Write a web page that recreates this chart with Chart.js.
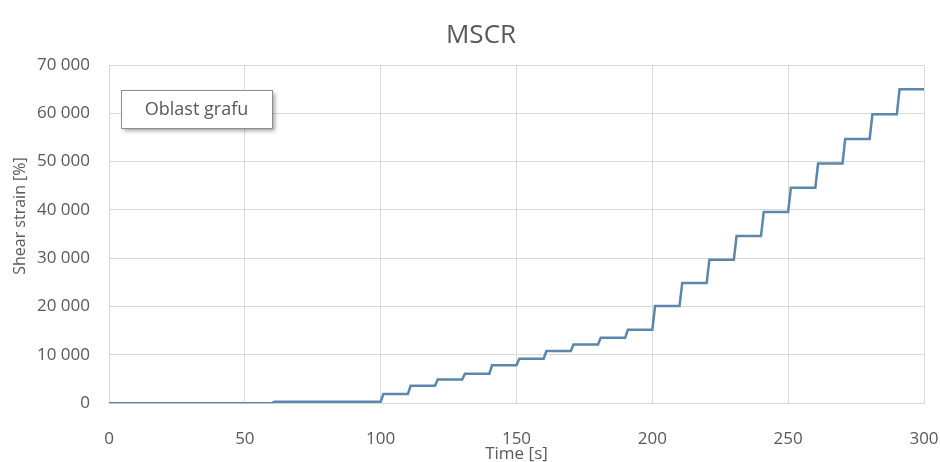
<!DOCTYPE html>
<html>
<head>
<meta charset="utf-8">
<title>MSCR</title>
<script src="https://cdn.jsdelivr.net/npm/chart.js@4.4.1/dist/chart.umd.min.js"></script>
<style>
    html, body { margin: 0; padding: 0; background: #fff; }
    #wrap { width: 940px; height: 462px; }
</style>
</head>
<body>
<div id="wrap"><canvas id="mscr"></canvas></div>
<script>
    'use strict';

    // Time [s] and strain [%] (creep step at each cycle start)
    const times = [
        0, 60, 61, 100, 101, 110, 111, 120, 121, 130, 131, 140, 141, 150, 151,
        160, 161, 170, 171, 180, 181, 190, 191, 200, 201, 210, 211, 220, 221,
        230, 231, 240, 241, 250, 251, 260, 261, 270, 271, 280, 281, 290, 291, 300
    ];
    const strains = [
        0, 0, 300, 300, 1900, 1900, 3600, 3600, 4900, 4900, 6100, 6100, 7850, 7850, 9200,
        9200, 10800, 10800, 12150, 12150, 13550, 13550, 15200, 15200, 20100, 20100, 24900, 24900, 29700,
        29700, 34600, 34600, 39600, 39600, 44600, 44600, 49600, 49600, 54700, 54700, 59800, 59800, 65000, 65000
    ];
    const xTicks = [0, 50, 100, 150, 200, 250, 300];
    const yTicks = [0, 10000, 20000, 30000, 40000, 50000, 60000, 70000];

    const chartTitle = 'MSCR';
    const xTitle = 'Time [s]';
    const yTitle = 'Shear strain [%]';
    const calloutText = 'Oblast grafu';

    const FONT = '"Open Sans", "Noto Sans", sans-serif';
    const TEXT = '#595959';
    const GRID = '#d9d9d9';

    function thousands(v) {
        return String(v).replace(/\B(?=(\d{3})+(?!\d))/g, ' ');
    }

    // Title, rotated y title and the Excel "Oblast grafu" tooltip box
    const decorPlugin = {
        id: 'decor',
        afterDraw: function(chart) {
            const ctx = chart.ctx;
            const area = chart.chartArea;
            ctx.save();
            ctx.fillStyle = TEXT;
            ctx.textAlign = 'center';
            ctx.textBaseline = 'middle';

            ctx.font = '26px ' + FONT;
            ctx.fillText(chartTitle, area.left + 372, 36);

            ctx.save();
            ctx.translate(20, area.top + 151);
            ctx.rotate(-Math.PI / 2);
            ctx.font = '16px ' + FONT;
            ctx.fillText(yTitle, 0, 0);
            ctx.restore();

            // callout box with a soft shadow
            const bx = area.left + 12, by = area.top + 25, bw = 151, bh = 38;
            ctx.save();
            ctx.shadowColor = 'rgba(0,0,0,0.35)';
            ctx.shadowBlur = 4;
            ctx.shadowOffsetX = 3;
            ctx.shadowOffsetY = 3;
            ctx.fillStyle = '#fff';
            ctx.fillRect(bx, by, bw, bh);
            ctx.restore();
            ctx.strokeStyle = '#8c8c8c';
            ctx.lineWidth = 1;
            ctx.strokeRect(bx + 0.5, by + 0.5, bw, bh);
            ctx.font = '18px ' + FONT;
            ctx.fillStyle = TEXT;
            ctx.fillText(calloutText, bx + bw / 2, by + bh / 2 + 1);
            ctx.restore();
        }
    };

    const points = times.map(function(t, i) {
        return { x: t, y: strains[i] };
    });

    new Chart(document.getElementById('mscr'), {
        type: 'line',
        data: {
            datasets: [{
                label: 'MSCR',
                data: points,
                borderColor: '#5b87ad',
                borderWidth: 2.5,
                pointRadius: 0,
                tension: 0,
                fill: false
            }]
        },
        options: {
            responsive: true,
            maintainAspectRatio: false,
            animation: false,
            layout: {
                padding: { top: 65, left: 18, right: 16, bottom: 0 }
            },
            plugins: {
                legend: { display: false },
                tooltip: { enabled: false }
            },
            scales: {
                x: {
                    type: 'linear',
                    min: 0,
                    max: 300,
                    afterBuildTicks: function(axis) {
                        axis.ticks = xTicks.map(function(v) { return { value: v }; });
                    },
                    afterFit: function(axis) {
                        // the "300" label may hang into the right padding
                        axis.paddingRight = 0;
                    },
                    grid: { color: GRID, drawTicks: false },
                    border: { color: GRID },
                    ticks: {
                        padding: 26,
                        color: TEXT,
                        font: { family: FONT, size: 17 }
                    },
                    title: {
                        display: true,
                        text: xTitle,
                        color: TEXT,
                        font: { family: FONT, size: 17 },
                        padding: { top: -32, bottom: -2 }
                    }
                },
                y: {
                    min: 0,
                    max: 70000,
                    afterBuildTicks: function(axis) {
                        axis.ticks = yTicks.map(function(v) { return { value: v }; });
                    },
                    grid: { color: GRID, drawTicks: false },
                    border: { color: GRID },
                    ticks: {
                        padding: 19,
                        color: TEXT,
                        font: { family: FONT, size: 17 },
                        callback: function(v) { return thousands(v); }
                    }
                }
            }
        },
        plugins: [decorPlugin]
    });
</script>
</body>
</html>
